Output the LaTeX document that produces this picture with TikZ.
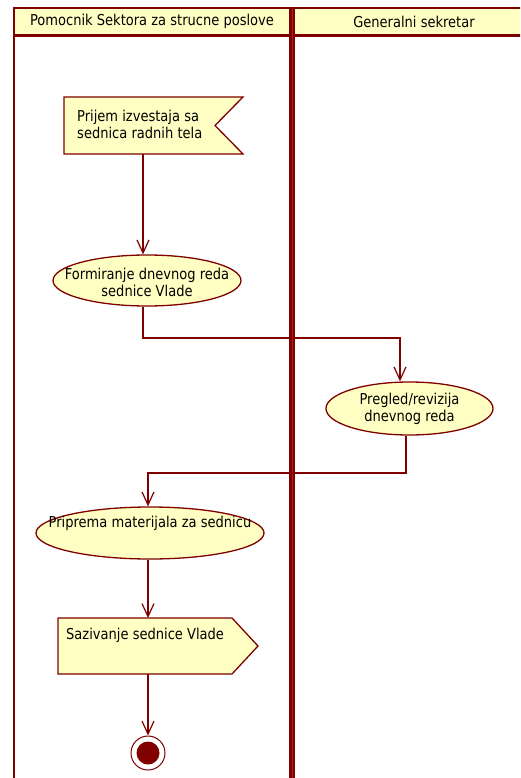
\documentclass[tikz,border=0pt]{standalone}
\usepackage{fontspec}
\setmainfont{DejaVu Sans}[FakeStretch=0.87]
\usetikzlibrary{arrows.meta,shapes.geometric}
\definecolor{umlred}{HTML}{800000}
\definecolor{umlmid}{HTML}{A82020}
\definecolor{umlfill}{HTML}{FFFFC4}
\begin{document}
\begin{tikzpicture}[x=1pt,y=-1pt,
  lbl/.style={font=\fontsize{15}{17}\selectfont, text=black, inner sep=0pt},
  lane/.style={draw=umlred, line width=2.5pt},
  activity/.style={ellipse, draw=umlred, fill=umlfill, line width=1.3pt, inner sep=0pt},
  flow/.style={draw=umlred, line width=1.2pt, -{Straight Barb[length=13pt,width=12pt]}},
  box/.style={draw=umlred, fill=umlfill, line width=1.3pt, line join=miter},
  frame/.style={inner sep=0pt, outer sep=0pt},
]
\useasboundingbox (0,0) rectangle (520,778);
\clip (0,0) rectangle (520,778);
\fill[white] (0,0) rectangle (520,778);

% swimlanes
\fill[umlfill] (14,8) rectangle (530,35.5);
\draw[lane] (14,8) -- (530,8);
\draw[lane] (14,35.5) -- (530,35.5);
\draw[lane] (14,6.75) -- (14,790);
\fill[umlred] (289,6.75) rectangle (295,790);
\draw[umlmid, line width=1pt] (292,9) -- (292,790);
\node[lbl] (lane1) at (152,21.5) {Pomocnik Sektora za strucne poslove};
\node[lbl] (lane2) at (414,21.5) {Generalni sekretar};

% receive signal
\node[frame, minimum width=179pt, minimum height=57pt] (f1) at (153.5,125.5) {};
\draw[box] (f1.north west) -- (f1.north east) -- ([xshift=-28pt]f1.east)
  -- (f1.south east) -- (f1.south west) -- cycle;
\node[lbl, align=left, anchor=west] (t1) at (77,124) {Prijem izvestaja sa\\sednica radnih tela};

% activities
\node[activity, minimum width=188pt, minimum height=51pt] (e2) at (147,280.5) {};
\node[lbl, align=center] (t2) at (147,282) {Formiranje dnevnog reda\\sednice Vlade};

\node[activity, minimum width=167pt, minimum height=53pt] (e3) at (409.5,408.5) {};
\node[lbl, align=center] (t3) at (409.5,409) {Pregled/revizija\\dnevnog reda};

\node[activity, minimum width=228pt, minimum height=52pt] (e4) at (150,533) {};
\node[lbl] (t4) at (150,523) {Priprema materijala za sednicu};

% send signal
\node[frame, minimum width=174pt, minimum height=56pt] (s5) at (145,646) {};
\draw[box] (s5.north west) -- (s5.north east) -- ([xshift=26pt]s5.east)
  -- (s5.south east) -- (s5.south west) -- cycle;
\node[lbl, anchor=base west] (t5) at (66,639) {Sazivanje sednice Vlade};

% final node
\node[circle, draw=umlred, fill=white, line width=1pt, minimum size=34pt, inner sep=0pt] (end) at (148,753) {};
\fill[umlred] (end.center) circle (11.5pt);

% control flows
\coordinate (b2) at (400,338);
\coordinate (b3) at (148,473);
\draw[flow] ([xshift=-10.5pt]f1.south) -- ([xshift=-10.5pt]f1.south |- e2.north);
\draw[flow] ([xshift=-4pt]e2.south) |- (b2) -- (b2 |- e3.north);
\draw[flow] ([xshift=-3.5pt]e3.south) |- (b3) -- (b3 |- e4.north);
\draw[flow] ([xshift=-2pt]e4.south) -- ([xshift=3pt]s5.north);
\draw[flow] ([xshift=3pt]s5.south) -- (end.north);
\end{tikzpicture}
\end{document}
